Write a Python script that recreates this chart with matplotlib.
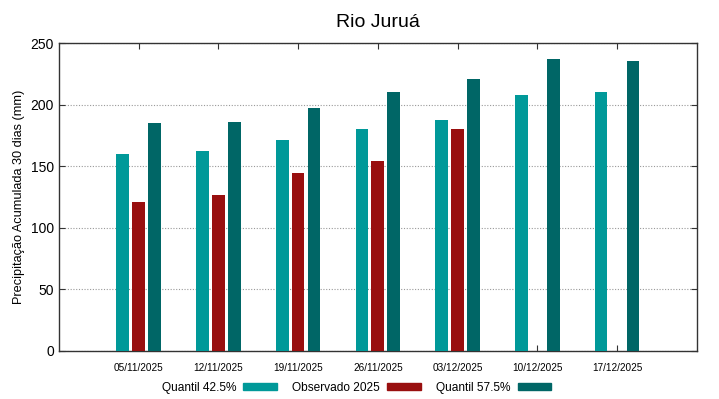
import numpy as np
import matplotlib
matplotlib.use("Agg")
import matplotlib.pyplot as plt
from matplotlib.patches import Rectangle

plt.rcParams['font.family'] = ['Liberation Sans', 'DejaVu Sans']

# dados
datas = ["05/11/2025", "12/11/2025", "19/11/2025", "26/11/2025",
         "03/12/2025", "10/12/2025", "17/12/2025"]
q425 = [160.0, 162.7, 171.1, 180.6, 187.9, 208.0, 210.4]
obs2025 = [121.0, 126.9, 144.3, 154.6, 180.6, np.nan, np.nan]
q575 = [185.2, 186.0, 197.7, 210.4, 221.0, 237.3, 235.9]

cores = ["#009999", "#990f0f", "#006666"]
nomes = ["Quantil 42.5%", "Observado 2025", "Quantil 57.5%"]

fig = plt.figure(figsize=(7.19, 3.99), dpi=100)
ax = fig.add_axes([0.082, 0.121, 0.887, 0.770])

x = np.arange(1, len(datas) + 1)
largura = 0.16
for serie, cor, off in zip([q425, obs2025, q575], cores, [-0.2, 0.0, 0.2]):
    vals = np.array(serie, dtype=float)
    m = ~np.isnan(vals)
    ax.bar(x[m] + off, vals[m], width=largura, color=cor, zorder=3)

ax.set_xlim(0, 8)
ax.set_ylim(0, 250)
ax.set_xticks(x)
ax.set_xticklabels(datas, fontsize=7.2)
ax.set_yticks([0, 50, 100, 150, 200, 250])
ax.tick_params(axis='y', labelsize=10)
ax.tick_params(direction='in', top=True, right=True, length=4, width=0.8, color='#333333')
ax.tick_params(axis='x', pad=9)
ax.yaxis.grid(True, linestyle=(0, (1, 1.5)), color='#999999', linewidth=0.8, zorder=0)
for s in ax.spines.values():
    s.set_color('#333333')
    s.set_linewidth(1.0)

ax.set_ylabel("Precipitação Acumulada 30 dias (mm)", fontsize=9.2)
ax.set_title("Rio Juruá", fontsize=14, pad=12)

handles = [Rectangle((0, 0), 1, 1, color=c) for c in cores]
fig.legend(handles, nomes, loc='center', bbox_to_anchor=(0.496, 0.028), ncol=3,
           frameon=False, markerfirst=False, fontsize=8.6, handlelength=2.8,
           handleheight=0.45, columnspacing=1.3, handletextpad=0.6)

fig.savefig("out.png", dpi=100)
